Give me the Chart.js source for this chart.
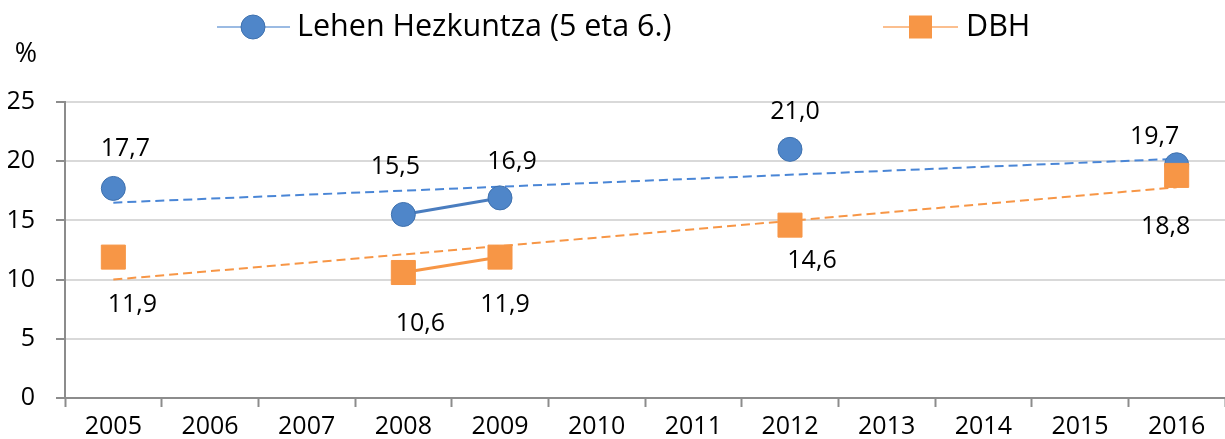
<!DOCTYPE html>
<html>
<head>
<meta charset="utf-8">
<script src="https://cdn.jsdelivr.net/npm/chart.js@4"></script>
<style>
  body { margin: 0; background: #fff; }
  #wrap { width: 1225px; height: 439px; position: relative; }
</style>
</head>
<body>
<div id="wrap"><canvas id="ratesChart"></canvas></div>
<script>
// data
const years = ["2005", "2006", "2007", "2008", "2009", "2010", "2011", "2012", "2013", "2014", "2015", "2016"];
const primaryName = "Lehen Hezkuntza (5 eta 6.)";
const secondaryName = "DBH";
const primaryValues = [17.7, null, null, 15.5, 16.9, null, null, 21.0, null, null, null, 19.7];
const secondaryValues = [11.9, null, null, 10.6, 11.9, null, null, 14.6, null, null, null, 18.8];
// linear trend lines, end values
const primaryTrend = [16.5, null, null, null, null, null, null, null, null, null, null, 20.2];
const secondaryTrend = [10.0, null, null, null, null, null, null, null, null, null, null, 17.8];
const yTicks = [0, 5, 10, 15, 20, 25];

const BLUE = "#4f86c9";
const BLUE_EDGE = "#3f71ae";
const ORANGE = "#f79646";
const FONT = "'Open Sans', sans-serif";

function fmt(v) {
    return v.toFixed(1).replace(".", ",");
}

// value labels (Excel style, nudged per point like the original)
const valueLabels = {
    id: "valueLabels",
    afterDatasetsDraw(chart) {
        const nudges = {
            0: [[12, -40], null, null, [-8, -48], [12, -36], null, null, [5, -37], null, null, null, [-22, -28]],
            1: [[19, 48], null, null, [17, 51], [5, 48], null, null, [22, 36], null, null, null, [-11, 51]],
        };
        const ctx = chart.ctx;
        ctx.save();
        ctx.font = "25px " + FONT;
        ctx.fillStyle = "#000";
        ctx.textAlign = "center";
        ctx.textBaseline = "middle";
        [0, 1].forEach((di) => {
            const meta = chart.getDatasetMeta(di);
            const values = chart.data.datasets[di].data;
            meta.data.forEach((pt, i) => {
                if (values[i] == null) return;
                const n = nudges[di][i] || [0, 0];
                ctx.fillText(fmt(values[i]), pt.x + n[0], pt.y + n[1]);
            });
        });
        ctx.restore();
    },
};

// legend with line + marker symbols, and the "%" unit
const topLegend = {
    id: "topLegend",
    afterDraw(chart) {
        const ctx = chart.ctx;
        const y = 27;
        ctx.save();
        ctx.lineWidth = 2;
        // first item
        ctx.strokeStyle = "#9bbbe3";
        ctx.beginPath();
        ctx.moveTo(217, y);
        ctx.lineTo(290, y);
        ctx.stroke();
        ctx.fillStyle = BLUE;
        ctx.strokeStyle = BLUE_EDGE;
        ctx.lineWidth = 1;
        ctx.beginPath();
        ctx.arc(253, y, 12, 0, Math.PI * 2);
        ctx.fill();
        ctx.stroke();
        // second item
        ctx.lineWidth = 2;
        ctx.strokeStyle = "#fbbf8f";
        ctx.beginPath();
        ctx.moveTo(883, y);
        ctx.lineTo(958, y);
        ctx.stroke();
        ctx.fillStyle = ORANGE;
        ctx.fillRect(909, y - 11.5, 23, 23);

        ctx.fillStyle = "#000";
        ctx.font = "30.5px " + FONT;
        ctx.textBaseline = "middle";
        ctx.textAlign = "left";
        ctx.fillText(primaryName, 297, y);
        ctx.fillText(secondaryName, 966, y);

        ctx.font = "27px " + FONT;
        ctx.textAlign = "center";
        ctx.fillText("%", 26, 54);
        ctx.restore();
    },
};

const ctx = document.getElementById("ratesChart");
new Chart(ctx, {
    type: "line",
    data: {
        labels: years,
        datasets: [
            {
                label: primaryName,
                data: primaryValues,
                borderColor: "#4a7dbf",
                borderWidth: 3,
                backgroundColor: BLUE,
                pointBackgroundColor: BLUE,
                pointBorderColor: BLUE_EDGE,
                pointBorderWidth: 1,
                pointStyle: "circle",
                pointRadius: 12,
                spanGaps: false,
                order: 1,
            },
            {
                label: secondaryName,
                data: secondaryValues,
                borderColor: ORANGE,
                borderWidth: 3,
                backgroundColor: ORANGE,
                pointBackgroundColor: ORANGE,
                pointBorderColor: ORANGE,
                pointBorderWidth: 1,
                pointStyle: "rect",
                pointRadius: 17,
                spanGaps: false,
                order: 0,
            },
            {
                label: "trend1",
                data: primaryTrend,
                borderColor: "#4a86d6",
                borderWidth: 2,
                borderDash: [9, 5],
                pointRadius: 0,
                spanGaps: true,
                order: 2,
            },
            {
                label: "trend2",
                data: secondaryTrend,
                borderColor: "#f79646",
                borderWidth: 2,
                borderDash: [9, 5],
                pointRadius: 0,
                spanGaps: true,
                order: 2,
            },
        ],
    },
    options: {
        responsive: true,
        maintainAspectRatio: false,
        animation: false,
        layout: {
            autoPadding: false,
            padding: { top: 102, left: 8, right: 0, bottom: 3 },
        },
        plugins: {
            legend: { display: false },
            tooltip: { enabled: false },
        },
        scales: {
            x: {
                offset: true,
                afterFit(scale) {
                    scale.height = 38;
                },
                grid: {
                    offset: true,
                    drawOnChartArea: false,
                    drawTicks: true,
                    tickLength: 9,
                    tickColor: "#8c8c8c",
                    tickWidth: 2,
                },
                border: { color: "#8c8c8c", width: 2 },
                ticks: {
                    color: "#000",
                    font: { family: FONT, size: 25 },
                    padding: 5,
                    maxRotation: 0,
                    autoSkip: false,
                },
            },
            y: {
                min: yTicks[0],
                max: yTicks[yTicks.length - 1],
                afterBuildTicks(scale) {
                    scale.ticks = yTicks.map((v) => ({ value: v }));
                },
                afterFit(scale) {
                    scale.width = 57;
                },
                grid: {
                    color: "#d9d9d9",
                    lineWidth: 2,
                    tickLength: 9,
                    tickColor: "#8c8c8c",
                    tickWidth: 2,
                },
                border: { color: "#8c8c8c", width: 2 },
                ticks: {
                    color: "#000",
                    font: { family: FONT, size: 25 },
                    padding: 21,
                },
            },
        },
    },
    plugins: [valueLabels, topLegend],
});
</script>
</body>
</html>
